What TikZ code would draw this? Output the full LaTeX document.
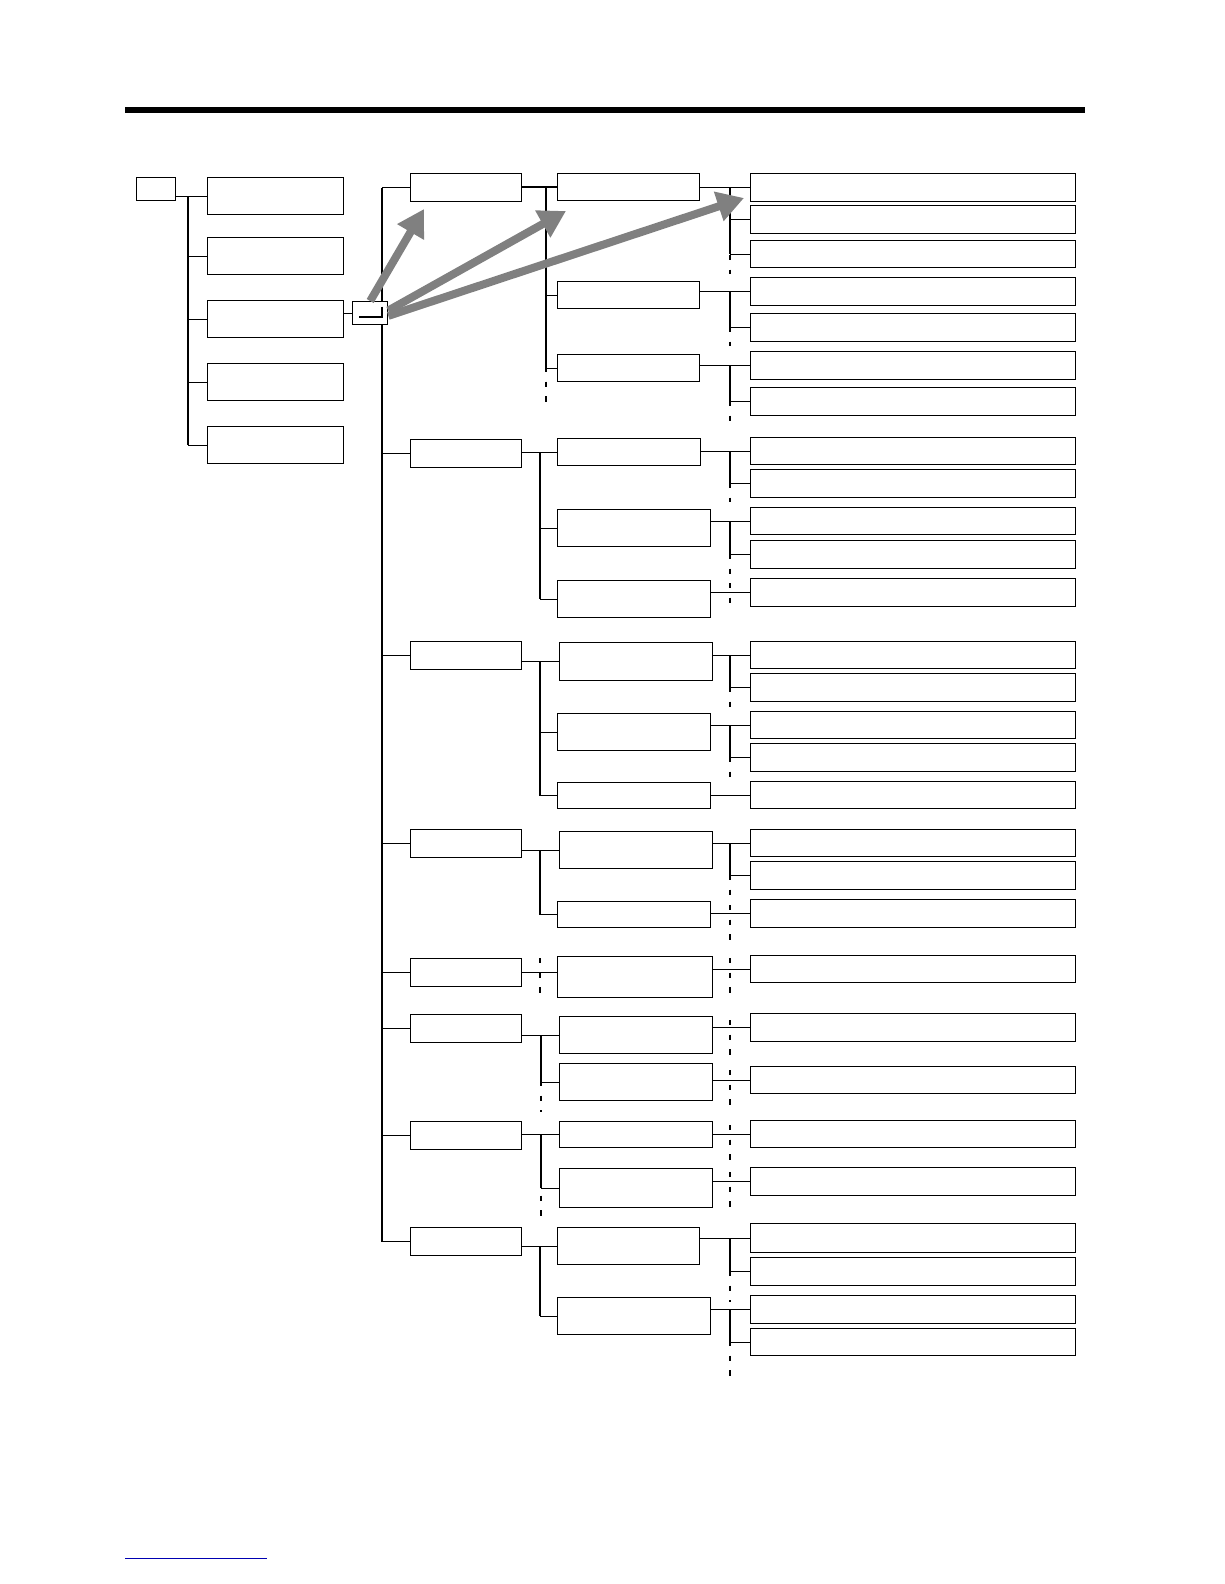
\documentclass[tikz,border=0pt]{standalone}
\usetikzlibrary{arrows.meta}
\tikzset{
  box/.style={draw, line width=1pt, inner sep=0pt, anchor=north west},
  link/.style={line width=1pt},
  dotline/.style={line width=1pt, dash pattern=on 4pt off 7pt},
  bigarrow/.style={line width=6pt, draw=black!50, -{Triangle[length=20pt,width=22pt]}}
}
% box from its corners, in pixels of the page
\newcommand\bx[5]{\node[box, minimum width={(#4-#2)*0.75pt}, minimum height={(#5-#3)*0.75pt}] (#1) at (#2,#3) {};}
\newcommand\leaf[3]{\bx{#1}{750}{#2}{1075}{#3}}
% parent -> children over a branch line at x = #2
\newcommand\kids[3]{%
  \foreach \c [count=\i] in {#3} {
    \ifnum\i=1 \xdef\firstkid{\c}\fi
    \xdef\lastkid{\c}
    \draw[link] (\c.west -| #2,0) -- (\c.west);
  }
  \draw[link] (#1.east |- \firstkid.west) -- (\firstkid.west -| #2,0) -- (\lastkid.west -| #2,0);}
\begin{document}
\begin{tikzpicture}[x=0.75pt, y=-0.75pt]
    \useasboundingbox (0,0) rectangle (1224,1584);
    % header rule and footer link
    \draw[line width=4pt] (125,110) -- (1085,110);
    \draw[blue!70!black, line width=0.6pt] (125,1558) -- (267,1558);

    % first column
    \bx{top}{136}{177}{175}{200}
    \bx{m1}{207}{177}{343}{214}
    \bx{m2}{207}{237}{343}{274}
    \bx{m3}{207}{300}{343}{337}
    \bx{m4}{207}{363}{343}{400}
    \bx{m5}{207}{426}{343}{463}
    \kids{top}{188}{m1,m2,m3,m4,m5}

    % enter key
    \node[box, minimum width=26.25pt, minimum height=17.25pt, fill=white] (key) at (352,301) {};
    \draw[line width=1.6pt] ([xshift=-5pt,yshift=5pt]key.east) -- ([xshift=-5pt,yshift=-3pt]key.east) -- ([xshift=5pt,yshift=-3pt]key.west);
    \draw[link] (m3.east |- key.west) -- (key.west);

    % second column
    \bx{g1}{410}{173}{521}{201}
    \bx{g2}{410}{439}{521}{467}
    \bx{g3}{410}{641}{521}{669}
    \bx{g4}{410}{829}{521}{857}
    \bx{g5}{410}{958}{521}{986}
    \bx{g6}{410}{1014}{521}{1042}
    \bx{g7}{410}{1121}{521}{1149}
    \bx{g8}{410}{1227}{521}{1255}
    \foreach \g in {g1,g2,g3,g4,g5,g6,g7,g8}
        \draw[link] (\g.west -| 382,0) -- (\g.west);
    \draw[link] (g1.west -| 382,0) -- (key.north -| 382,0);
    \draw[link] (key.south -| 382,0) -- (g8.west -| 382,0);

    % third column
    \bx{g1a}{557}{173}{699}{200} \bx{g1b}{557}{281}{699}{308} \bx{g1c}{557}{354}{699}{381}
    \bx{g2a}{557}{438}{700}{465} \bx{g2b}{557}{509}{710}{546} \bx{g2c}{557}{580}{710}{617}
    \bx{g3a}{559}{642}{712}{680} \bx{g3b}{557}{713}{710}{750} \bx{g3c}{557}{782}{710}{808}
    \bx{g4a}{559}{831}{712}{868} \bx{g4b}{557}{901}{710}{927}
    \bx{g5a}{557}{956}{712}{997}
    \bx{g6a}{559}{1016}{712}{1053} \bx{g6b}{559}{1063}{712}{1100}
    \bx{g7a}{559}{1121}{712}{1147} \bx{g7b}{559}{1168}{712}{1207}
    \bx{g8a}{557}{1227}{699}{1264} \bx{g8b}{557}{1297}{710}{1334}
    \kids{g1}{546}{g1a,g1b,g1c}
    \kids{g2}{540}{g2a,g2b,g2c}
    \kids{g3}{540}{g3a,g3b,g3c}
    \kids{g4}{540}{g4a,g4b}
    \draw[link] (g5.east) -- (g5a.west |- g5.east);
    \kids{g6}{541}{g6a,g6b}
    \kids{g7}{541}{g7a,g7b}
    \kids{g8}{540}{g8a,g8b}

    % fourth column
    \leaf{g1a1}{173}{201} \leaf{g1a2}{205}{233} \leaf{g1a3}{240}{267}
    \leaf{g1b1}{277}{305} \leaf{g1b2}{313}{341}
    \leaf{g1c1}{351}{379} \leaf{g1c2}{387}{415}
    \leaf{g2a1}{437}{464} \leaf{g2a2}{469}{497}
    \leaf{g2b1}{507}{534} \leaf{g2b2}{540}{568}
    \leaf{g2c1}{578}{606}
    \leaf{g3a1}{641}{668} \leaf{g3a2}{673}{701}
    \leaf{g3b1}{711}{738} \leaf{g3b2}{743}{771}
    \leaf{g3c1}{781}{808}
    \leaf{g4a1}{829}{856} \leaf{g4a2}{861}{889}
    \leaf{g4b1}{899}{927}
    \leaf{g5a1}{955}{982}
    \leaf{g6a1}{1013}{1041} \leaf{g6b1}{1066}{1093}
    \leaf{g7a1}{1120}{1147} \leaf{g7b1}{1167}{1195}
    \leaf{g8a1}{1223}{1252} \leaf{g8a2}{1257}{1285}
    \leaf{g8b1}{1295}{1323} \leaf{g8b2}{1328}{1355}
    \kids{g1a}{730}{g1a1,g1a2,g1a3}
    \kids{g1b}{730}{g1b1,g1b2}
    \kids{g1c}{730}{g1c1,g1c2}
    \kids{g2a}{730}{g2a1,g2a2}
    \kids{g2b}{730}{g2b1,g2b2}
    \kids{g2c}{730}{g2c1}
    \kids{g3a}{730}{g3a1,g3a2}
    \kids{g3b}{730}{g3b1,g3b2}
    \kids{g3c}{730}{g3c1}
    \kids{g4a}{730}{g4a1,g4a2}
    \kids{g4b}{730}{g4b1}
    \kids{g5a}{730}{g5a1}
    \kids{g6a}{730}{g6a1}
    \kids{g6b}{730}{g6b1}
    \kids{g7a}{730}{g7a1}
    \kids{g7b}{730}{g7b1}
    \kids{g8a}{730}{g8a1,g8a2}
    \kids{g8b}{730}{g8b1,g8b2}

    % lists go on
    \foreach \x/\ya/\yb in {546/367/402, 540/958/998, 541/1081/1112, 541/1181/1216,
        730/255/274, 730/327/346, 730/401/428, 730/483/502, 730/554/576,
        730/583/607, 730/687/709, 730/757/777, 730/875/897, 730/905/947,
        730/958/998, 730/1020/1056, 730/1070/1106, 730/1125/1162,
        730/1172/1212, 730/1271/1302, 730/1341/1377}
        \draw[dotline] (\x,\ya) -- (\x,\yb);

    % enter leads into each level
    \draw[bigarrow] (key.north) -- (424,209);
    \draw[bigarrow] ([yshift=2pt]key.east) -- (566,211);
    \draw[bigarrow] ([yshift=-2pt]key.east) -- (744,198);
\end{tikzpicture}
\end{document}
